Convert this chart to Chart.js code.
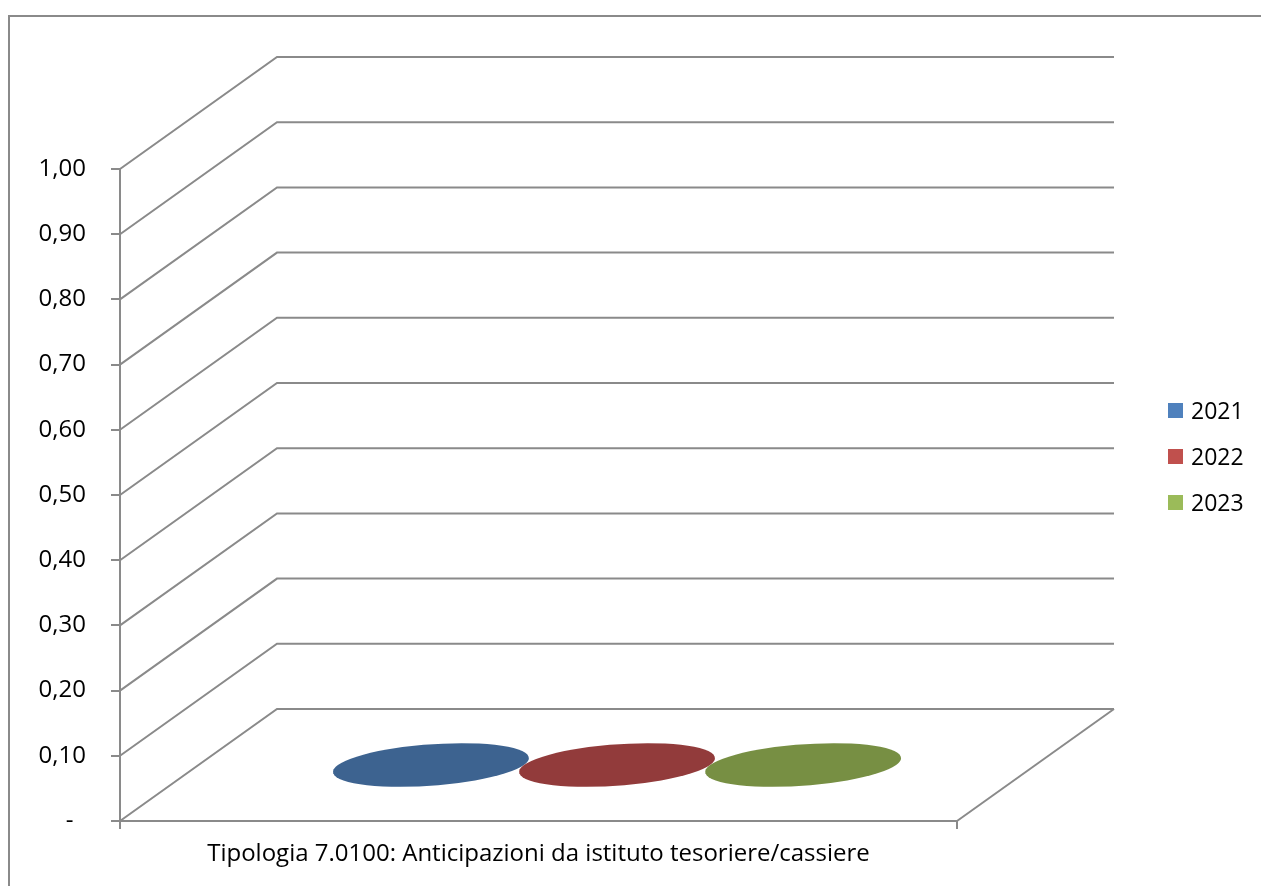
<!DOCTYPE html>
<html>
<head>
<meta charset="utf-8">
<script src="https://cdn.jsdelivr.net/npm/chart.js@4.4.1/dist/chart.umd.min.js"></script>
<style>
    body { margin: 0; background: #fff; }
    #wrap { position: relative; width: 1261px; height: 886px; overflow: hidden; }
    #legend { position: absolute; left: 1168px; top: 397px; font: 23px "Open Sans", sans-serif; color: #000; }
    #legend div { display: flex; align-items: center; height: 26px; margin-bottom: 20px; }
    #legend span.box { display: inline-block; width: 15px; height: 15px; margin-right: 8px; }
</style>
</head>
<body>
<div id="wrap">
    <canvas id="chart"></canvas>
    <div id="legend"></div>
</div>
<script>
const categories = ["Tipologia 7.0100: Anticipazioni da istituto tesoriere/cassiere"];
const seriesLabels = ["2021", "2022", "2023"];
const values2021 = [0];
const values2022 = [0];
const values2023 = [0];
const yTickLabels = ["-  ", "0,10", "0,20", "0,30", "0,40", "0,50", "0,60", "0,70", "0,80", "0,90", "1,00"];

const sideColors = ["#4F81BD", "#C0504D", "#9BBB59"];
const topColors = ["#3D6390", "#923B3B", "#778F43"];
const lineColor = "#8a8a8a";
const font = { family: "'Open Sans', sans-serif", size: 24 };

// depth of the 3D box (back wall offset) and how deep a cylinder sits in it
const depth = { x: 157, y: -112 };
const cylDepth = 0.39;

const frame3d = {
    id: "frame3d",
    beforeDraw(chart) {
        const ctx = chart.ctx;
        ctx.save();
        ctx.strokeStyle = lineColor;
        ctx.lineWidth = 2;
        ctx.strokeRect(9, 16, 1400, 1000);
        ctx.restore();
    },
    beforeDatasetsDraw(chart) {
        const { ctx, chartArea: a, scales: { y } } = chart;
        ctx.save();
        ctx.strokeStyle = lineColor;
        ctx.lineWidth = 2;
        y.ticks.forEach(t => {
            const py = y.getPixelForValue(t.value);
            ctx.beginPath();
            ctx.moveTo(a.left, py);
            ctx.lineTo(a.left + depth.x, py + depth.y);
            ctx.lineTo(a.right + depth.x, py + depth.y);
            ctx.stroke();
        });
        ctx.beginPath();
        ctx.moveTo(a.right, a.bottom);
        ctx.lineTo(a.right + depth.x, a.bottom + depth.y);
        ctx.stroke();
        ctx.restore();
    },
    afterDatasetsDraw(chart) {
        const ctx = chart.ctx;
        chart.data.datasets.forEach((ds, i) => {
            chart.getDatasetMeta(i).data.forEach(bar => {
                const w = bar.width / 2;
                const vx = depth.x * cylDepth / 2;
                const vy = depth.y * cylDepth / 2;
                const cx = bar.x + depth.x / 2;
                const top = bar.y + depth.y / 2;
                const base = bar.base + depth.y / 2;
                const ellipse = cy => {
                    ctx.save();
                    ctx.translate(cx, cy);
                    ctx.transform(w, 0, vx, vy, 0, 0);
                    ctx.beginPath();
                    ctx.arc(0, 0, 1, 0, Math.PI * 2);
                    ctx.restore();
                };
                ctx.save();
                // body only shows when the value is above zero
                if (Math.abs(base - top) > 0.5) {
                    const ex = Math.sqrt(w * w + vx * vx);
                    const ey = vy * vx / ex;
                    ctx.fillStyle = ds.backgroundColor;
                    ellipse(base);
                    ctx.fill();
                    ctx.beginPath();
                    ctx.moveTo(cx - ex, base - ey);
                    ctx.lineTo(cx + ex, base + ey);
                    ctx.lineTo(cx + ex, top + ey);
                    ctx.lineTo(cx - ex, top - ey);
                    ctx.closePath();
                    ctx.fill();
                }
                ctx.fillStyle = ds.topColor;
                ellipse(top);
                ctx.fill();
                ctx.restore();
            });
        });
    }
};

const seriesValues = [values2021, values2022, values2023];

const chart = new Chart(document.getElementById("chart"), {
    type: "bar",
    data: {
        labels: categories,
        datasets: seriesLabels.map((label, i) => ({
            label: label,
            data: seriesValues[i],
            backgroundColor: sideColors[i],
            topColor: topColors[i],
            borderWidth: 0,
            categoryPercentage: 0.667,
            barPercentage: 1
        }))
    },
    options: {
        responsive: true,
        maintainAspectRatio: false,
        animation: false,
        layout: { padding: { top: 169, right: 304, bottom: 0, left: 0 } },
        plugins: {
            legend: { display: false },
            tooltip: { enabled: false }
        },
        scales: {
            x: {
                grid: { offset: true, drawOnChartArea: false, tickLength: 8, color: lineColor, lineWidth: 2 },
                border: { display: true, color: lineColor, width: 2 },
                ticks: { font: font, color: "#000", padding: 11, maxRotation: 0 },
                afterFit: s => { s.height = 65; }
            },
            y: {
                min: 0,
                max: 1,
                grid: { drawOnChartArea: false, tickLength: 9, color: lineColor, lineWidth: 2 },
                border: { display: true, color: lineColor, width: 2 },
                ticks: {
                    stepSize: 0.1,
                    font: font,
                    color: "#000",
                    padding: 25,
                    callback: (v, i) => yTickLabels[i]
                },
                afterFit: s => { s.width = 120; }
            }
        }
    },
    plugins: [frame3d]
});

document.getElementById("legend").innerHTML = chart.data.datasets.map(ds =>
    `<div><span class="box" style="background:${ds.backgroundColor}"></span>${ds.label}</div>`
).join("");
</script>
</body>
</html>
